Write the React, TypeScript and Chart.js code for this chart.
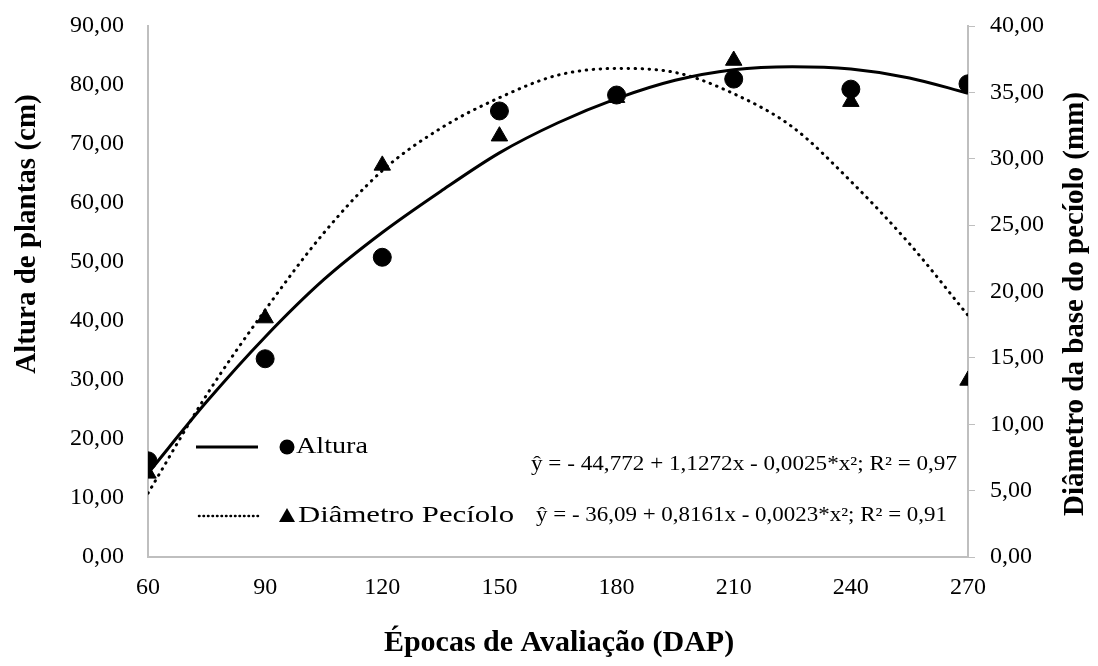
import React, { useEffect, useRef } from "react";
import { Chart, registerables } from "chart.js";

Chart.register(...registerables);

const epocas = [60, 90, 120, 150, 180, 210, 240, 270];
const altura = [16.3, 33.6, 50.8, 75.6, 78.3, 81.0, 79.3, 80.2];
const diametro = [6.3, 18.0, 29.5, 31.7, 34.6, 37.4, 34.3, 13.3];

const trendX = [60, 75, 90, 105, 120, 135, 150, 165, 180, 195, 210, 225, 240, 255, 270];
const alturaTrend = [14.2, 26.3, 37.3, 47, 55, 62, 68.5, 73.6, 77.7, 80.8, 82.6, 83.1, 82.7, 81.2, 78.6];
const diametroTrend = [4.8, 12.2, 18.6, 24.4, 29.1, 32.3, 34.6, 36.3, 36.8, 36.5, 34.9, 32.4, 28.3, 23.6, 18.2];

const leftTicks = [0, 10, 20, 30, 40, 50, 60, 70, 80, 90];
const rightTicks = [0, 5, 10, 15, 20, 25, 30, 35, 40];

const legendLabels = ["Altura", "Diâmetro Pecíolo"];
const equations = [
  "ŷ = - 44,772 + 1,1272x - 0,0025*x²; R² = 0,97",
  "ŷ = - 36,09 + 0,8161x - 0,0023*x²; R² = 0,91",
];
const xTitle = "Épocas de Avaliação (DAP)";
const yTitle = "Altura de plantas (cm)";
const y1Title = "Diâmetro da base do pecíolo (mm)";

const SERIF = "'Liberation Serif', 'Times New Roman', serif";
const fmt = (v: number) => v.toFixed(2).replace(".", ",");

function fitText(ctx: CanvasRenderingContext2D, text: string, x: number, y: number, width: number) {
  const w = ctx.measureText(text).width;
  const sx = width / w;
  ctx.save();
  ctx.translate(x, y);
  ctx.scale(sx, 1);
  ctx.textAlign = "left";
  ctx.fillText(text, 0, 0);
  ctx.restore();
}

const textPlugin = {
  id: "textPlugin",
  afterDraw(chart: any) {
    const ctx = chart.ctx as CanvasRenderingContext2D;
    ctx.save();
    ctx.fillStyle = "#000";
    ctx.strokeStyle = "#000";

    // axis titles
    ctx.textAlign = "center";
    ctx.textBaseline = "middle";
    ctx.font = `bold 30px ${SERIF}`;
    ctx.fillText(xTitle, 559, 643);

    ctx.font = `bold 29px ${SERIF}`;
    ctx.save();
    ctx.translate(28, 234);
    ctx.rotate(-Math.PI / 2);
    ctx.fillText(yTitle, 0, 0);
    ctx.restore();

    ctx.save();
    ctx.translate(1076, 304);
    ctx.rotate(-Math.PI / 2);
    ctx.fillText(y1Title, 0, 0);
    ctx.restore();

    // legend
    const rows = [447, 516];
    ctx.lineWidth = 3;
    ctx.setLineDash([]);
    ctx.beginPath();
    ctx.moveTo(196, rows[0]);
    ctx.lineTo(258, rows[0]);
    ctx.stroke();

    ctx.lineWidth = 2.5;
    ctx.lineCap = "round";
    ctx.setLineDash([0.5, 4]);
    ctx.beginPath();
    ctx.moveTo(199, rows[1]);
    ctx.lineTo(258, rows[1]);
    ctx.stroke();
    ctx.setLineDash([]);
    ctx.lineCap = "butt";

    ctx.beginPath();
    ctx.arc(287, rows[0], 7.5, 0, Math.PI * 2);
    ctx.fill();

    ctx.beginPath();
    ctx.moveTo(287, rows[1] - 8);
    ctx.lineTo(295, rows[1] + 6);
    ctx.lineTo(279, rows[1] + 6);
    ctx.closePath();
    ctx.fill();

    ctx.font = `24px ${SERIF}`;
    fitText(ctx, legendLabels[0], 296, rows[0], 72);
    fitText(ctx, legendLabels[1], 298, rows[1], 216);

    ctx.font = `20px ${SERIF}`;
    fitText(ctx, equations[0], 531, 465, 426);
    fitText(ctx, equations[1], 536, 516, 411);

    ctx.restore();
  },
};

const fitY = (width: number) => (s: any) => {
  s.width = width;
  s.paddingTop = 0;
  s.paddingBottom = 0;
};

export default function App() {
  const ref = useRef<HTMLCanvasElement | null>(null);

  useEffect(() => {
    document.body.style.margin = "0";
    const canvas = ref.current!;
    const chart = new Chart(canvas, {
      type: "scatter",
      data: {
        datasets: [
          {
            label: "Altura",
            data: epocas.map((x, i) => ({ x, y: altura[i] })),
            yAxisID: "y",
            pointStyle: "circle",
            pointRadius: 9,
            backgroundColor: "#000",
            borderColor: "#000",
            showLine: false,
            order: 0,
          },
          {
            label: "Diâmetro Pecíolo",
            data: epocas.map((x, i) => ({ x, y: diametro[i] })),
            yAxisID: "y1",
            pointStyle: "triangle",
            pointRadius: 9.5,
            backgroundColor: "#000",
            borderColor: "#000",
            showLine: false,
            order: 0,
          },
          {
            type: "line",
            label: "Altura tendência",
            data: trendX.map((x, i) => ({ x, y: alturaTrend[i] })),
            yAxisID: "y",
            borderColor: "#000",
            borderWidth: 3,
            pointRadius: 0,
            cubicInterpolationMode: "monotone",
            fill: false,
            order: 1,
          } as any,
          {
            type: "line",
            label: "Diâmetro tendência",
            data: trendX.map((x, i) => ({ x, y: diametroTrend[i] })),
            yAxisID: "y1",
            borderColor: "#000",
            borderWidth: 3,
            borderDash: [0.5, 6.5],
            borderCapStyle: "round",
            pointRadius: 0,
            cubicInterpolationMode: "monotone",
            fill: false,
            order: 1,
          } as any,
        ],
      },
      options: {
        responsive: false,
        animation: false,
        devicePixelRatio: 1,
        layout: { padding: { top: 26, left: 0, right: 0, bottom: 0 } },
        plugins: { legend: { display: false }, tooltip: { enabled: false } },
        scales: {
          x: {
            type: "linear",
            min: 60,
            max: 270,
            afterBuildTicks: (s: any) => {
              s.ticks = epocas.map((v) => ({ value: v }));
            },
            afterFit: (s: any) => {
              s.height = 109;
              s.paddingLeft = 0;
              s.paddingRight = 0;
            },
            grid: { display: true, drawOnChartArea: false, drawTicks: false, color: "#bfbfbf" },
            border: { display: true, color: "#bfbfbf", width: 2 },
            ticks: {
              color: "#000",
              font: { family: SERIF, size: 24 },
              padding: 16,
              maxRotation: 0,
              callback: (v: any) => String(v),
            },
          },
          y: {
            position: "left",
            min: 0,
            max: 90,
            afterBuildTicks: (s: any) => {
              s.ticks = leftTicks.map((v) => ({ value: v }));
            },
            afterFit: fitY(148),
            grid: { display: true, drawOnChartArea: false, drawTicks: false, color: "#bfbfbf" },
            border: { display: true, color: "#bfbfbf", width: 2 },
            ticks: {
              color: "#000",
              font: { family: SERIF, size: 24 },
              padding: 24,
              callback: (v: any) => fmt(Number(v)),
            },
          },
          y1: {
            position: "right",
            min: 0,
            max: 40,
            afterBuildTicks: (s: any) => {
              s.ticks = rightTicks.map((v) => ({ value: v }));
            },
            afterFit: fitY(130),
            grid: { display: true, drawOnChartArea: false, drawTicks: true, tickLength: 7, color: "#bfbfbf" },
            border: { display: true, color: "#bfbfbf", width: 2 },
            ticks: {
              color: "#000",
              font: { family: SERIF, size: 24 },
              padding: 15,
              callback: (v: any) => fmt(Number(v)),
            },
          },
        },
      } as any,
      plugins: [textPlugin],
    });
    return () => chart.destroy();
  }, []);

  return (
    <div style={{ width: 1098, height: 666, background: "#fff" }}>
      <canvas ref={ref} width={1098} height={666} style={{ display: "block" }} />
    </div>
  );
}
